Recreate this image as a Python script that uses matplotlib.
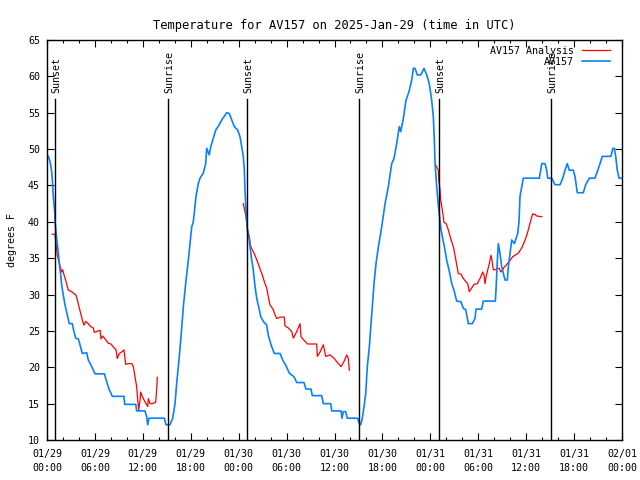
"""Temperature trace for AV157, observed vs analysis, with sunrise/sunset markers."""

import matplotlib

matplotlib.use("Agg")
import matplotlib.pyplot as plt

# hours since 2025-01-29 00:00 UTC
obs_hours = [
    0.16, 0.38, 0.59, 0.71, 0.79, 0.96, 1.0, 1.13, 1.29, 1.42, 1.54, 1.72, 1.84, 2.04, 2.25, 2.54,
    2.79, 3.17, 3.29, 3.59, 3.92, 4.13, 4.42, 4.97, 5.17, 5.60, 6.01, 7.18, 7.48, 7.76, 8.18, 9.64,
    9.73, 11.11, 11.23, 12.27, 12.48, 12.61, 12.77, 14.69, 14.90, 15.40, 15.74, 16.03, 16.24, 16.57,
    16.87, 17.07, 17.41, 17.69, 17.91, 18.12, 18.32, 18.66, 18.95, 19.16, 19.57, 19.87, 20.00, 20.32,
    20.50, 20.82, 21.12, 21.54, 21.88, 22.50, 22.83, 23.13, 23.45, 23.88, 24.17, 24.38, 24.58, 24.71,
    24.79, 24.92, 25.08, 25.33, 25.42, 25.63, 25.83, 26.05, 26.26, 26.55, 26.76, 27.09, 27.51, 27.71,
    28.05, 28.46, 29.18, 29.51, 29.89, 30.34, 30.93, 31.27, 32.18, 32.43, 33.06, 33.22, 34.40, 34.60,
    35.53, 35.65, 36.82, 36.94, 37.10, 37.40, 37.60, 38.91, 39.03, 39.28, 39.48, 39.70, 39.91, 40.11,
    40.36, 40.66, 40.95, 41.20, 41.49, 41.91, 42.33, 42.74, 43.16, 43.45, 43.79, 44.12, 44.29, 44.62,
    44.95, 45.33, 45.67, 45.87, 46.08, 46.37, 46.79, 47.21, 47.55, 47.87, 48.17, 48.37, 48.50, 48.59,
    48.80, 49.00, 49.21, 49.34, 49.59, 49.84, 50.05, 50.34, 50.68, 50.96, 51.30, 51.84, 52.13, 52.43,
    52.76, 53.26, 53.59, 53.72, 54.43, 54.63, 56.14, 56.23, 56.39, 56.51, 56.72, 56.94, 57.14, 57.35,
    57.64, 57.77, 57.98, 58.19, 58.52, 58.94, 59.10, 59.23, 59.44, 59.64, 61.65, 61.82, 61.95, 62.36,
    62.57, 62.70, 63.20, 63.61, 64.24, 64.58, 64.86, 65.15, 65.40, 65.90, 66.12, 66.40, 67.15, 67.45,
    67.91, 68.62, 68.96, 69.25, 69.53, 70.62, 70.84, 71.04, 71.21, 71.41, 71.63, 72.0,
]
obs_temp = [
    49.0, 48.3, 46.9, 45.1, 43.5, 41.4, 40.2, 38.6, 37.0, 35.7, 34.3, 32.7, 31.3, 29.9, 28.6, 27.2,
    26.0, 26.0, 25.3, 24.0, 23.9, 23.1, 21.9, 22.0, 21.0, 20.1, 19.1, 19.1, 18.0, 17.0, 16.0, 16.0,
    14.9, 14.9, 14.0, 14.0, 13.2, 12.1, 13.0, 13.0, 12.1, 12.1, 13.0, 15.0, 17.8, 21.5,
    25.4, 28.3, 32.0, 34.7, 37.0, 39.3, 40.0, 43.5, 45.3, 46.0, 46.7, 48.0, 50.1, 49.2,
    50.3, 51.5, 52.6, 53.3, 54.0, 55.0, 54.9, 54.0, 53.1, 52.6, 51.7, 50.3, 49.0, 47.1,
    44.4, 41.6, 38.9, 37.5, 36.6, 34.8, 33.4, 31.1, 29.5, 28.1, 27.0, 26.3, 25.8, 24.4,
    23.1, 21.9, 21.9, 21.0, 20.3, 19.2, 18.7, 17.9, 17.9, 17.0, 17.0, 16.1, 16.1, 15.0,
    15.0, 14.0, 14.0, 13.0, 13.9, 13.9, 13.0, 13.0, 12.4, 12.1, 13.0, 14.6, 16.4, 20.1,
    22.8, 27.2, 31.5, 34.3, 36.5, 39.3, 42.5, 44.8, 48.0, 48.7, 50.8, 53.1, 52.4, 54.2,
    56.7, 57.9, 59.5, 61.1, 61.1, 60.2, 60.2, 61.1, 60.2, 59.0, 56.7, 54.5, 51.3, 48.0,
    44.8, 42.3, 40.2, 38.9, 37.5, 36.1, 34.7, 33.4, 31.5, 30.6, 29.1, 29.0, 28.1, 27.9,
    26.0, 26.0, 26.7, 28.0, 28.0, 29.1, 29.1, 30.8, 34.7, 37.0, 35.7, 33.8, 32.9, 32.0,
    32.0, 33.8, 35.7, 37.5, 37.0, 38.4, 40.0, 43.5, 44.8, 46.0, 46.0, 47.1, 48.0, 48.0,
    47.1, 46.0, 46.0, 45.1, 45.1, 46.0, 47.1, 48.0, 47.1, 47.1, 46.2, 44.0, 44.0, 45.1,
    46.0, 46.0, 47.1, 48.0, 49.0, 49.0, 50.1, 50.1, 49.0, 47.1, 46.0, 46.0,
]

# analysis runs, one list per night
ana_hours = [
    [0.66, 1.0, 1.13, 1.29, 1.54, 1.72, 1.84, 1.97, 2.13, 2.38, 2.67, 3.09, 3.63, 3.79, 4.01, 4.22,
     4.47, 4.63, 4.85, 5.17, 5.47, 5.80, 5.92, 6.22, 6.64, 6.76, 6.97, 7.26, 7.68, 8.01, 8.30, 8.64,
     8.80, 9.05, 9.35, 9.64, 9.85, 10.11, 10.61, 10.81, 11.02, 11.23, 11.36, 11.48, 11.65, 11.73,
     11.93, 12.15, 12.40, 12.61, 12.69, 12.90, 13.19, 13.61, 13.74, 13.81],
    [24.58, 24.88, 25.13, 25.33, 25.51, 25.92, 26.26, 26.59, 26.89, 27.21, 27.51, 27.71, 27.92,
     28.34, 28.55, 28.76, 29.18, 29.71, 29.80, 30.22, 30.64, 30.84, 31.27, 31.68, 31.81, 32.10,
     32.64, 33.77, 33.85, 34.19, 34.60, 34.90, 35.44, 35.98, 36.48, 36.82, 37.19, 37.53, 37.73, 37.86],
    [48.67, 49.00, 49.05, 49.21, 49.30, 49.50, 49.71, 49.96, 50.25, 50.55, 50.88, 51.09, 51.30,
     51.50, 51.84, 52.13, 52.43, 52.68, 52.88, 53.18, 53.47, 53.88, 54.22, 54.56, 54.72, 54.85,
     54.97, 55.19, 55.39, 55.60, 55.72, 55.89, 56.10, 56.39, 56.64, 56.81, 57.06, 57.26, 57.48,
     57.69, 57.98, 58.31, 58.60, 59.02, 59.44, 59.86, 60.15, 60.48, 60.81, 61.11, 61.32, 61.95],
]
ana_temp = [
    [38.3, 38.3, 37.0, 35.4, 34.3, 33.6, 33.1, 33.4, 32.7, 31.8, 30.6, 30.4, 29.9, 29.3, 28.3, 27.4,
     26.3, 25.8, 26.3, 26.0, 25.6, 25.4, 24.8, 24.9, 25.1, 23.9, 24.3, 23.9, 23.3, 23.2, 22.8, 22.4,
     21.2, 21.9, 22.1, 22.4, 20.4, 20.5, 20.5, 20.1, 18.7, 17.3, 15.5, 14.1, 15.5, 16.6,
     16.0, 15.5, 15.0, 14.6, 15.7, 15.0, 15.0, 15.2, 17.1, 18.6],
    [42.5, 40.9, 38.9, 38.0, 36.6, 35.7, 34.8, 33.8, 32.9, 31.8, 30.9, 29.7, 28.6,
     27.9, 27.2, 26.7, 26.9, 26.9, 25.7, 25.4, 24.9, 24.0, 24.9, 26.0, 24.2, 23.8,
     23.2, 23.2, 21.5, 22.1, 23.1, 21.5, 21.7, 21.2, 20.5, 20.1, 20.8, 21.7, 21.2, 19.6],
    [47.8, 47.1, 45.8, 44.4, 43.0, 41.6, 39.9, 39.8, 38.9, 37.7, 36.6, 35.4, 34.1,
     32.9, 32.8, 32.2, 31.8, 31.5, 30.4, 30.9, 31.4, 31.5, 32.2, 33.1, 32.7, 31.5,
     32.4, 33.4, 34.3, 35.4, 34.7, 33.4, 33.4, 33.6, 33.6, 33.1, 33.4, 33.8, 34.0,
     34.3, 34.7, 35.2, 35.4, 35.7, 36.4, 37.5, 38.4, 39.8, 41.1, 41.0, 40.8, 40.7],
]

sunset_hours = [1.04, 25.08, 49.13]
sunrise_hours = [15.19, 39.11, 63.15]

tick_hours = list(range(0, 73, 6))
tick_labels = [
    "01/29\n00:00", "01/29\n06:00", "01/29\n12:00", "01/29\n18:00",
    "01/30\n00:00", "01/30\n06:00", "01/30\n12:00", "01/30\n18:00",
    "01/31\n00:00", "01/31\n06:00", "01/31\n12:00", "01/31\n18:00",
    "02/01\n00:00",
]

plt.rcParams["font.family"] = ["DejaVu Sans Mono"]
plt.rcParams["font.size"] = 7.2

fig = plt.figure(figsize=(6.4, 4.8), dpi=100)
ax = fig.add_axes([47 / 640, 40 / 480, 575 / 640, 400 / 480])

for i, (hrs, tmp) in enumerate(zip(ana_hours, ana_temp)):
    ax.plot(hrs, tmp, color="#ff0000", linewidth=0.9, label="AV157 Analysis" if i == 0 else None)
ax.plot(obs_hours, obs_temp, color="#0a80ff", linewidth=1.2, label="AV157")

line_top = 0.8525
label_y = 10 + 55 * 0.868
for h in sunset_hours:
    ax.axvline(h, ymax=line_top, color="black", linewidth=1)
    ax.text(h + 0.15, label_y, "Sunset", rotation=90, ha="center", va="bottom")
for h in sunrise_hours:
    ax.axvline(h, ymax=line_top, color="black", linewidth=1)
    ax.text(h + 0.15, label_y, "Sunrise", rotation=90, ha="center", va="bottom")

ax.set_xlim(0, 72)
ax.set_ylim(10, 65)
ax.set_xticks(tick_hours)
ax.set_xticklabels(tick_labels, linespacing=1.45)
ax.set_xticks(range(0, 73, 2), minor=True)
ax.set_yticks(range(10, 66, 5))
ax.tick_params(which="both", direction="in", top=True, right=True, width=0.8)
ax.tick_params(which="major", length=5)
ax.tick_params(axis="x", which="major", pad=6.5)
ax.tick_params(axis="y", which="major", pad=5)
ax.tick_params(which="minor", length=2.5)
for s in ax.spines.values():
    s.set_linewidth(1)

ax.set_ylabel("degrees F", labelpad=8)
ax.set_title("Temperature for AV157 on 2025-Jan-29 (time in UTC)", pad=8)

leg = ax.legend(loc="upper right", bbox_to_anchor=(0.979, 0.985), markerfirst=False, frameon=False,
                handlelength=2.8, handletextpad=0.8, labelspacing=0.1, borderpad=0, borderaxespad=0)

fig.savefig("out.png", dpi=100)
